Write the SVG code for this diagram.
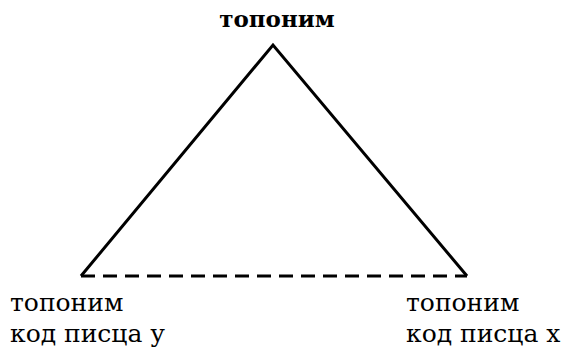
<svg xmlns="http://www.w3.org/2000/svg" width="561" height="348" viewBox="0 0 561 348">
<style>
.t{font-family:"DejaVu Serif","Liberation Serif",serif;font-size:25px;fill:#000}
.b{font-weight:bold;font-size:23px}
.s{stroke:#000;stroke-width:3;fill:none;stroke-linejoin:miter}
.d{stroke:#000;stroke-width:3;fill:none;stroke-dasharray:14,8}
</style>
<rect width="561" height="348" fill="#fff"/>
<g id="connectors">
<path class="s" d="M81,276 L273,45 L467,276"/>
<path class="d" d="M81,276 L467,276"/>
</g>
<g id="top"><text class="t b" x="277" y="27" text-anchor="middle">топоним</text></g>
<g id="left"><text class="t" x="10" y="311">топоним</text><text class="t" x="10" y="342">код писца у</text></g>
<g id="right"><text class="t" x="406" y="311">топоним</text><text class="t" x="406" y="342">код писца х</text></g>
</svg>
